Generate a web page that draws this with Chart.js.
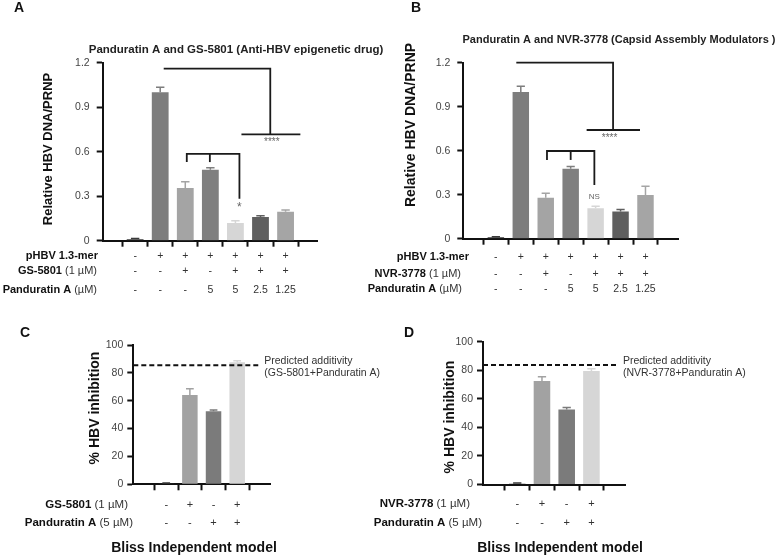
<!DOCTYPE html>
<html>
<head>
<meta charset="utf-8">
<script src="https://cdn.jsdelivr.net/npm/chart.js@4.4.0/dist/chart.umd.min.js"></script>
<style>
  html, body { margin: 0; padding: 0; background: #fff; }
  #wrap { position: relative; width: 779px; height: 559px; overflow: hidden; }
  #wrap canvas { position: absolute; left: 0; top: 0; }
</style>
</head>
<body>
<div id="wrap">
  <canvas id="chartA" width="779" height="559"></canvas>
  <canvas id="chartB" width="779" height="559"></canvas>
  <canvas id="chartC" width="779" height="559"></canvas>
  <canvas id="chartD" width="779" height="559"></canvas>
</div>
<script>
// Treatment grid for panels A and B
const phbv = ['-', '+', '+', '+', '+', '+', '+'];
const drugOn = ['-', '-', '+', '-', '+', '+', '+'];
const panduratinDose = ['-', '-', '-', '5', '5', '2.5', '1.25'];
const dnaTicks = [0, 0.3, 0.6, 0.9, 1.2];

// Relative HBV DNA/PRNP (mean, SEM)
const gsDna = [0.01, 1.0, 0.355, 0.479, 0.12, 0.16, 0.196];
const gsDnaErr = [0.004, 0.034, 0.043, 0.012, 0.014, 0.008, 0.011];
const nvrDna = [0.01, 1.0, 0.28, 0.477, 0.207, 0.185, 0.298];
const nvrDnaErr = [0.004, 0.04, 0.03, 0.016, 0.014, 0.014, 0.06];

// Bliss independence panels C and D
const blissDrug = ['-', '+', '-', '+'];
const blissPand = ['-', '-', '+', '+'];
const inhibTicks = [0, 20, 40, 60, 80, 100];
const gsInhib = [0.5, 64.1, 52.4, 87.6];
const gsInhibErr = [0.5, 4.5, 1.0, 1.1];
const gsPredicted = 85.4;
const nvrInhib = [0.5, 72.5, 52.6, 79.5];
const nvrInhibErr = [0.5, 3.0, 1.4, 1.6];
const nvrPredicted = 83.7;

const greysDna = ['#3a3a3a', '#7d7d7d', '#a4a4a4', '#7f7f7f', '#d6d6d6', '#5f5f5f', '#a5a5a5'];
const greysBliss = ['#3a3a3a', '#a2a2a2', '#7b7b7b', '#d6d6d6'];

const FONT = "'Liberation Sans', Arial, Helvetica, sans-serif";
Chart.defaults.font.family = FONT;

function text(ctx, s, x, y, size, opts = {}) {
    ctx.font = (opts.bold ? 'bold ' : '') + size + 'px ' + FONT;
    ctx.fillStyle = opts.color || '#222';
    ctx.textAlign = opts.align || 'left';
    ctx.textBaseline = 'middle';
    ctx.fillText(s, x, y);
}

// bold part + normal part, right aligned at xRight
function rowLabel(ctx, bold, normal, xRight, y, size) {
    ctx.font = size + 'px ' + FONT;
    const w = normal ? ctx.measureText(normal).width : 0;
    if (normal) text(ctx, normal, xRight, y, size, { align: 'right', color: '#333' });
    text(ctx, bold, xRight - w, y, size, { bold: true, align: 'right', color: '#111' });
}

function decorPlugin(p) {
    return {
        id: 'decor',
        afterDatasetsDraw(chart) {
            const ctx = chart.ctx, ys = chart.scales.y;
            ctx.save();
            ctx.lineWidth = 1.5;
            chart.getDatasetMeta(0).data.forEach((bar, i) => {
                const top = ys.getPixelForValue(p.values[i] + p.errors[i]);
                const half = bar.width * 0.25;
                ctx.strokeStyle = p.colors[i];
                ctx.beginPath();
                ctx.moveTo(bar.x, bar.y);
                ctx.lineTo(bar.x, top);
                ctx.moveTo(bar.x - half, top);
                ctx.lineTo(bar.x + half, top);
                ctx.stroke();
            });
            ctx.restore();
        },
        afterDraw(chart) {
            const ctx = chart.ctx, xs = chart.scales.x, ys = chart.scales.y;
            const X = v => xs.getPixelForValue(v), Y = v => ys.getPixelForValue(v);
            const area = chart.chartArea;
            ctx.save();

            // significance brackets
            ctx.strokeStyle = '#1a1a1a';
            ctx.lineWidth = 1.8;
            (p.brackets || []).forEach(path => {
                ctx.beginPath();
                path.forEach(([a, b], k) => k ? ctx.lineTo(X(a), Y(b)) : ctx.moveTo(X(a), Y(b)));
                ctx.stroke();
            });
            (p.marks || []).forEach(m => text(ctx, m.text, X(m.x), Y(m.y), m.size, { align: 'center', color: '#666' }));

            // predicted additivity
            if (p.predicted != null) {
                ctx.strokeStyle = '#111';
                ctx.lineWidth = 2;
                ctx.setLineDash([5, 3]);
                ctx.beginPath();
                ctx.moveTo(area.left, Y(p.predicted));
                ctx.lineTo(X(p.dashEnd), Y(p.predicted));
                ctx.stroke();
                ctx.setLineDash([]);
                const tx = X(p.dashEnd) + 6, ty = Y(p.predicted);
                text(ctx, 'Predicted additivity', tx, ty - 4, 10.5, { color: '#333' });
                text(ctx, p.predictedLabel, tx, ty + 8, 10.5, { color: '#333' });
            }

            // panel letter, title, y label
            text(ctx, p.letter, p.letterPos[0], p.letterPos[1], 14, { bold: true, color: '#111' });
            if (p.title) text(ctx, p.title, p.titlePos[0], p.titlePos[1], p.titleSize, { bold: true, align: 'center', color: '#222' });
            ctx.save();
            ctx.translate(p.yTitlePos[0], p.yTitlePos[1]);
            ctx.rotate(-Math.PI / 2);
            text(ctx, p.yTitle, 0, 0, p.yTitleSize, { bold: true, align: 'center', color: '#111' });
            ctx.restore();

            // treatment table
            p.rows.forEach(r => {
                rowLabel(ctx, r.bold, r.normal, r.right, r.y, p.tableSize);
                r.cells.forEach((c, i) => text(ctx, c, X(i), r.y, p.tableSize - 0.5, { align: 'center', color: '#333' }));
            });
            if (p.footer) text(ctx, p.footer, p.footerPos[0], p.footerPos[1], 14, { bold: true, align: 'center', color: '#111' });
            ctx.restore();
        }
    };
}

function panelChart(id, p) {
    const ctx = document.getElementById(id).getContext('2d');
    const axisColor = '#111';
    return new Chart(ctx, {
        type: 'bar',
        data: {
            datasets: [{
                data: p.values.map((v, i) => ({ x: i, y: v })),
                backgroundColor: p.colors,
                borderWidth: 0,
                barPercentage: p.barPct,
                categoryPercentage: 1
            }]
        },
        options: {
            responsive: false,
            animation: false,
            devicePixelRatio: 1,
            layout: {
                padding: { left: p.area.l - 40, top: p.area.t, right: 779 - p.area.r, bottom: 559 - p.area.b - 12 }
            },
            plugins: { legend: { display: false }, tooltip: { enabled: false } },
            scales: {
                x: {
                    type: 'linear',
                    min: p.xMin,
                    max: p.xMax,
                    afterFit: s => { s.height = 12; },
                    ticks: { stepSize: 1, includeBounds: false, callback: () => '' },
                    grid: { drawOnChartArea: false, tickLength: 6, tickWidth: 2, tickColor: axisColor },
                    border: { color: axisColor, width: 2 }
                },
                y: {
                    min: 0,
                    max: p.ticks[p.ticks.length - 1],
                    afterFit: s => { s.width = 40; },
                    afterBuildTicks: s => { s.ticks = p.ticks.map(v => ({ value: v })); },
                    ticks: { font: { size: 10.5 }, color: '#444', padding: p.tickPad },
                    grid: { drawOnChartArea: false, tickLength: 6, tickWidth: 2, tickColor: axisColor },
                    border: { color: axisColor, width: 2 }
                }
            }
        },
        plugins: [decorPlugin(p)]
    });
}

panelChart('chartA', {
    values: gsDna, errors: gsDnaErr, colors: greysDna, ticks: dnaTicks,
    area: { l: 102.7, t: 62.7, r: 318, b: 240.7 }, xMin: -0.68, xMax: 6.68, barPct: 0.67, tickPad: 7,
    brackets: [
        [[1.14, 1.16], [5.39, 1.16], [5.39, 0.717]],
        [[4.24, 0.717], [6.59, 0.717]],
        [[2.06, 0.53], [2.06, 0.585], [4.16, 0.585], [4.16, 0.283]],
        [[2.98, 0.585], [2.98, 0.53]]
    ],
    marks: [{ text: '****', x: 5.45, y: 0.666, size: 10 }, { text: '*', x: 4.16, y: 0.225, size: 12 }],
    letter: 'A', letterPos: [14, 8],
    title: 'Panduratin A and GS-5801 (Anti-HBV epigenetic drug)', titlePos: [236, 50], titleSize: 11.5,
    yTitle: 'Relative HBV DNA/PRNP', yTitlePos: [48, 149], yTitleSize: 13,
    tableSize: 11,
    rows: [
        { bold: 'pHBV 1.3-mer', normal: '', cells: phbv, y: 256, right: 98 },
        { bold: 'GS-5801', normal: ' (1 µM)', cells: drugOn, y: 271, right: 97 },
        { bold: 'Panduratin A', normal: ' (µM)', cells: panduratinDose, y: 290, right: 97 }
    ]
});

panelChart('chartB', {
    values: nvrDna, errors: nvrDnaErr, colors: greysDna, ticks: dnaTicks,
    area: { l: 463.3, t: 62.7, r: 678.3, b: 238.7 }, xMin: -0.69, xMax: 6.70, barPct: 0.66, tickPad: 7,
    brackets: [
        [[0.82, 1.2], [4.70, 1.2], [4.70, 0.741]],
        [[3.64, 0.741], [5.78, 0.741]],
        [[2.05, 0.537], [2.05, 0.598], [3.95, 0.598], [3.95, 0.366]],
        [[3.0, 0.598], [3.0, 0.537]]
    ],
    marks: [{ text: '****', x: 4.56, y: 0.684, size: 10 }, { text: 'NS', x: 3.95, y: 0.286, size: 8 }],
    letter: 'B', letterPos: [411, 8],
    title: 'Panduratin A and NVR-3778 (Capsid Assembly Modulators )', titlePos: [619, 40], titleSize: 11,
    yTitle: 'Relative HBV DNA/PRNP', yTitlePos: [411, 125], yTitleSize: 14,
    tableSize: 11,
    rows: [
        { bold: 'pHBV 1.3-mer', normal: '', cells: phbv, y: 257, right: 469 },
        { bold: 'NVR-3778', normal: ' (1 µM)', cells: drugOn, y: 274, right: 461 },
        { bold: 'Panduratin A', normal: ' (µM)', cells: panduratinDose, y: 289, right: 462 }
    ]
});

panelChart('chartC', {
    values: gsInhib, errors: gsInhibErr, colors: greysBliss, ticks: inhibTicks,
    area: { l: 133.3, t: 345, r: 270.7, b: 484.3 }, xMin: -0.665, xMax: 3.69, barPct: 0.655, tickPad: 4,
    predicted: gsPredicted, dashEnd: 3.89, predictedLabel: '(GS-5801+Panduratin A)',
    letter: 'C', letterPos: [20, 333],
    yTitle: '% HBV inhibition', yTitlePos: [95, 408], yTitleSize: 14,
    tableSize: 11.5,
    rows: [
        { bold: 'GS-5801', normal: ' (1 µM)', cells: blissDrug, y: 505, right: 128 },
        { bold: 'Panduratin A', normal: ' (5 µM)', cells: blissPand, y: 523, right: 133 }
    ],
    footer: 'Bliss Independent model', footerPos: [194, 548]
});

panelChart('chartD', {
    values: nvrInhib, errors: nvrInhibErr, colors: greysBliss, ticks: inhibTicks,
    area: { l: 483, t: 341.7, r: 625, b: 484.5 }, xMin: -0.667, xMax: 3.64, barPct: 0.67, tickPad: 4,
    predicted: nvrPredicted, dashEnd: 4.03, predictedLabel: '(NVR-3778+Panduratin A)',
    letter: 'D', letterPos: [404, 333],
    yTitle: '% HBV inhibition', yTitlePos: [450, 417], yTitleSize: 14,
    tableSize: 11.5,
    rows: [
        { bold: 'NVR-3778', normal: ' (1 µM)', cells: blissDrug, y: 504, right: 470 },
        { bold: 'Panduratin A', normal: ' (5 µM)', cells: blissPand, y: 523, right: 482 }
    ],
    footer: 'Bliss Independent model', footerPos: [560, 548]
});
</script>
</body>
</html>
